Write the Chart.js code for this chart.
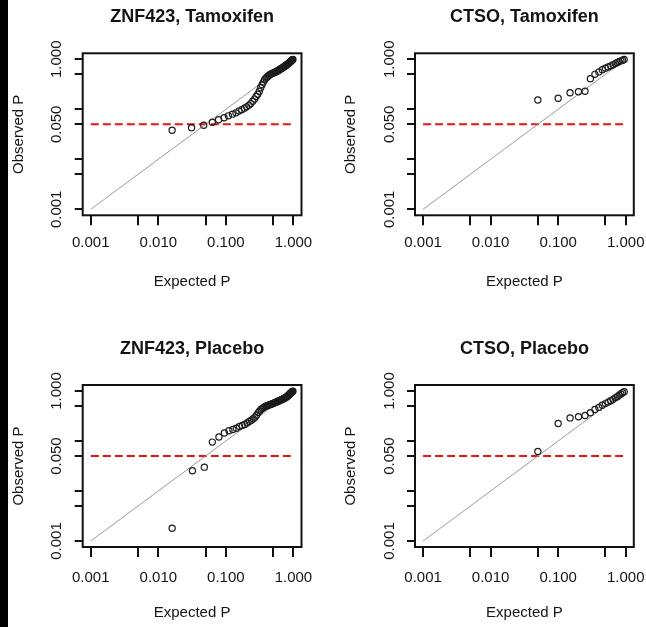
<!DOCTYPE html>
<html>
<head>
<meta charset="utf-8">
<script src="https://cdn.jsdelivr.net/npm/chart.js@4.4.0/dist/chart.umd.min.js"></script>
<style>
  html, body { margin: 0; padding: 0; background: #fff; }
  #page { position: relative; width: 646px; height: 627px; overflow: hidden; background: #fff; }
  #bar { position: absolute; left: 0; top: 0; width: 8px; height: 627px; background: #000; }
  canvas { position: absolute; left: 0; top: 0; }
</style>
</head>
<body>
<div id="page">
  <div id="bar"></div>
  <canvas id="c0" width="646" height="627"></canvas>
  <canvas id="c1" width="646" height="627"></canvas>
  <canvas id="c2" width="646" height="627"></canvas>
  <canvas id="c3" width="646" height="627"></canvas>
</div>
<script>
// panel titles
const titles = ['ZNF423, Tamoxifen', 'CTSO, Tamoxifen', 'ZNF423, Placebo', 'CTSO, Placebo'];

// ZNF423, Tamoxifen
const znfTamExpected = [0.016, 0.031, 0.047, 0.063, 0.078, 0.094, 0.109, 0.125, 0.141, 0.156,
  0.172, 0.188, 0.203, 0.219, 0.234, 0.25, 0.266, 0.281, 0.297, 0.313,
  0.328, 0.344, 0.359, 0.375, 0.391, 0.406, 0.422, 0.438, 0.453, 0.469,
  0.484, 0.5, 0.516, 0.531, 0.547, 0.563, 0.578, 0.594, 0.609, 0.625,
  0.641, 0.656, 0.672, 0.688, 0.703, 0.719, 0.734, 0.75, 0.766, 0.781,
  0.797, 0.813, 0.828, 0.844, 0.859, 0.875, 0.891, 0.906, 0.922, 0.938,
  0.953, 0.969, 0.984];
const znfTamObserved = [0.038, 0.043, 0.048, 0.055, 0.062, 0.068, 0.074, 0.08, 0.085, 0.092,
  0.098, 0.105, 0.112, 0.12, 0.13, 0.145, 0.16, 0.18, 0.2, 0.23,
  0.27, 0.31, 0.35, 0.39, 0.42, 0.44, 0.46, 0.48, 0.5, 0.51,
  0.52, 0.53, 0.54, 0.55, 0.56, 0.57, 0.58, 0.6, 0.61, 0.62,
  0.64, 0.65, 0.66, 0.67, 0.69, 0.7, 0.72, 0.73, 0.75, 0.76,
  0.78, 0.79, 0.81, 0.83, 0.84, 0.86, 0.88, 0.9, 0.92, 0.94,
  0.96, 0.98, 0.99];

// CTSO, Tamoxifen
const ctsoTamExpected = [0.05, 0.1, 0.15, 0.2, 0.25, 0.3, 0.35, 0.4, 0.45, 0.5,
  0.55, 0.6, 0.65, 0.7, 0.75, 0.8, 0.85, 0.9, 0.95];
const ctsoTamObserved = [0.153, 0.166, 0.215, 0.225, 0.23, 0.41, 0.5, 0.56, 0.62, 0.66,
  0.7, 0.74, 0.78, 0.82, 0.86, 0.9, 0.93, 0.96, 0.99];

// ZNF423, Placebo
const znfPlaExpected = [0.016, 0.032, 0.048, 0.063, 0.079, 0.095, 0.111, 0.127, 0.143, 0.159,
  0.175, 0.19, 0.206, 0.222, 0.238, 0.254, 0.27, 0.286, 0.302, 0.317,
  0.333, 0.349, 0.365, 0.381, 0.397, 0.413, 0.429, 0.444, 0.46, 0.476,
  0.492, 0.508, 0.524, 0.54, 0.556, 0.571, 0.587, 0.603, 0.619, 0.635,
  0.651, 0.667, 0.683, 0.698, 0.714, 0.73, 0.746, 0.762, 0.778, 0.794,
  0.81, 0.825, 0.841, 0.857, 0.873, 0.889, 0.905, 0.921, 0.937, 0.952,
  0.968, 0.984];
const znfPlaObserved = [0.0018, 0.0255, 0.03, 0.095, 0.12, 0.145, 0.16, 0.17, 0.18, 0.195,
  0.205, 0.215, 0.23, 0.245, 0.26, 0.28, 0.3, 0.33, 0.37, 0.4,
  0.43, 0.45, 0.47, 0.49, 0.5, 0.51, 0.52, 0.53, 0.54, 0.55,
  0.56, 0.57, 0.58, 0.59, 0.6, 0.61, 0.62, 0.63, 0.64, 0.65,
  0.66, 0.67, 0.68, 0.69, 0.7, 0.71, 0.73, 0.74, 0.75, 0.76,
  0.78, 0.8, 0.81, 0.83, 0.86, 0.88, 0.9, 0.92, 0.94, 0.96,
  0.98, 0.99];

// CTSO, Placebo
const ctsoPlaExpected = [0.05, 0.1, 0.15, 0.2, 0.25, 0.3, 0.35, 0.4, 0.45, 0.5,
  0.55, 0.6, 0.65, 0.7, 0.75, 0.8, 0.85, 0.9, 0.95];
const ctsoPlaObserved = [0.062, 0.224, 0.29, 0.305, 0.324, 0.367, 0.427, 0.47, 0.52, 0.56,
  0.6, 0.64, 0.68, 0.73, 0.77, 0.82, 0.87, 0.92, 0.97];

// axis ticks and labels
const tickValues = [0.001, 0.005, 0.01, 0.05, 0.1, 0.5, 1];
const xLabelValues = [0.001, 0.01, 0.1, 1];
const yLabelValues = [0.001, 0.05, 1];
const diagonalRange = [0.001, 1];
const threshold = 0.05;

const AXIS_MIN = 0.000759;
const AXIS_MAX = 1.318;
const FONT = '"Liberation Sans", Arial, Helvetica, sans-serif';
const TEXT = '#141414';

const rAxes = {
  id: 'rAxes',
  afterDraw(chart, args, opts) {
    const {ctx, chartArea: a, scales: {x, y}} = chart;
    ctx.save();
    ctx.strokeStyle = '#111';
    ctx.lineWidth = 2;
    ctx.strokeRect(a.left, a.top, a.right - a.left, a.bottom - a.top);

    ctx.beginPath();
    tickValues.forEach(v => {
      const px = Math.round(x.getPixelForValue(v));
      ctx.moveTo(px, a.bottom);
      ctx.lineTo(px, a.bottom + 10);
      const py = Math.round(y.getPixelForValue(v));
      ctx.moveTo(a.left, py);
      ctx.lineTo(a.left - 8, py);
    });
    ctx.stroke();

    ctx.fillStyle = TEXT;
    ctx.textAlign = 'center';
    ctx.textBaseline = 'middle';
    ctx.font = '15px ' + FONT;
    xLabelValues.forEach(v => {
      ctx.fillText(v.toFixed(3), x.getPixelForValue(v), a.bottom + opts.tickGap);
    });
    yLabelValues.forEach(v => {
      ctx.save();
      ctx.translate(a.left - 25.5, y.getPixelForValue(v));
      ctx.rotate(-Math.PI / 2);
      ctx.fillText(v.toFixed(3), 0, 0);
      ctx.restore();
    });

    const cx = (a.left + a.right) / 2;
    ctx.fillText('Expected P', cx, a.bottom + opts.titleGap);
    ctx.save();
    ctx.translate(a.left - 64, (a.top + a.bottom) / 2);
    ctx.rotate(-Math.PI / 2);
    ctx.fillText('Observed P', 0, 0);
    ctx.restore();

    ctx.font = 'bold 18px ' + FONT;
    ctx.fillText(opts.title, cx, a.top - 36.3);
    ctx.restore();
  }
};

function logScale() {
  return {
    type: 'logarithmic',
    display: false,
    bounds: 'data',
    min: AXIS_MIN,
    max: AXIS_MAX,
    afterBuildTicks: s => { s.min = AXIS_MIN; s.max = AXIS_MAX; }
  };
}

function makePanel(id, title, expected, observed, pad, tickGap, titleGap) {
  const points = expected.map((e, i) => ({x: e, y: observed[i]}));
  new Chart(document.getElementById(id), {
    type: 'scatter',
    data: {
      datasets: [
        {
          data: points,
          pointStyle: 'circle',
          pointRadius: 3.1,
          pointBorderWidth: 1.2,
          pointBorderColor: '#1c1c1c',
          pointBackgroundColor: 'rgba(0,0,0,0)'
        },
        {
          data: diagonalRange.map(v => ({x: v, y: v})),
          showLine: true,
          pointRadius: 0,
          borderColor: '#9a9a9a',
          borderWidth: 1
        },
        {
          data: diagonalRange.map(v => ({x: v, y: threshold})),
          showLine: true,
          pointRadius: 0,
          borderColor: '#ee1111',
          borderWidth: 2,
          borderDash: [8, 4]
        }
      ]
    },
    options: {
      responsive: false,
      animation: false,
      devicePixelRatio: 1,
      events: [],
      layout: { padding: pad },
      scales: { x: logScale(), y: logScale() },
      plugins: {
        legend: { display: false },
        tooltip: { enabled: false },
        rAxes: { title, tickGap, titleGap }
      }
    },
    plugins: [rAxes]
  });
}

makePanel('c0', titles[0], znfTamExpected, znfTamObserved,
  {left: 82.7, top: 53.3, right: 344.5, bottom: 411.7}, 27.5, 67);
makePanel('c1', titles[1], ctsoTamExpected, ctsoTamObserved,
  {left: 415, top: 53.3, right: 12.2, bottom: 411.7}, 27.5, 67);
makePanel('c2', titles[2], znfPlaExpected, znfPlaObserved,
  {left: 82.7, top: 385, right: 344.5, bottom: 80}, 31, 65.5);
makePanel('c3', titles[3], ctsoPlaExpected, ctsoPlaObserved,
  {left: 415, top: 385, right: 12.2, bottom: 80}, 31, 65.5);
</script>
</body>
</html>
